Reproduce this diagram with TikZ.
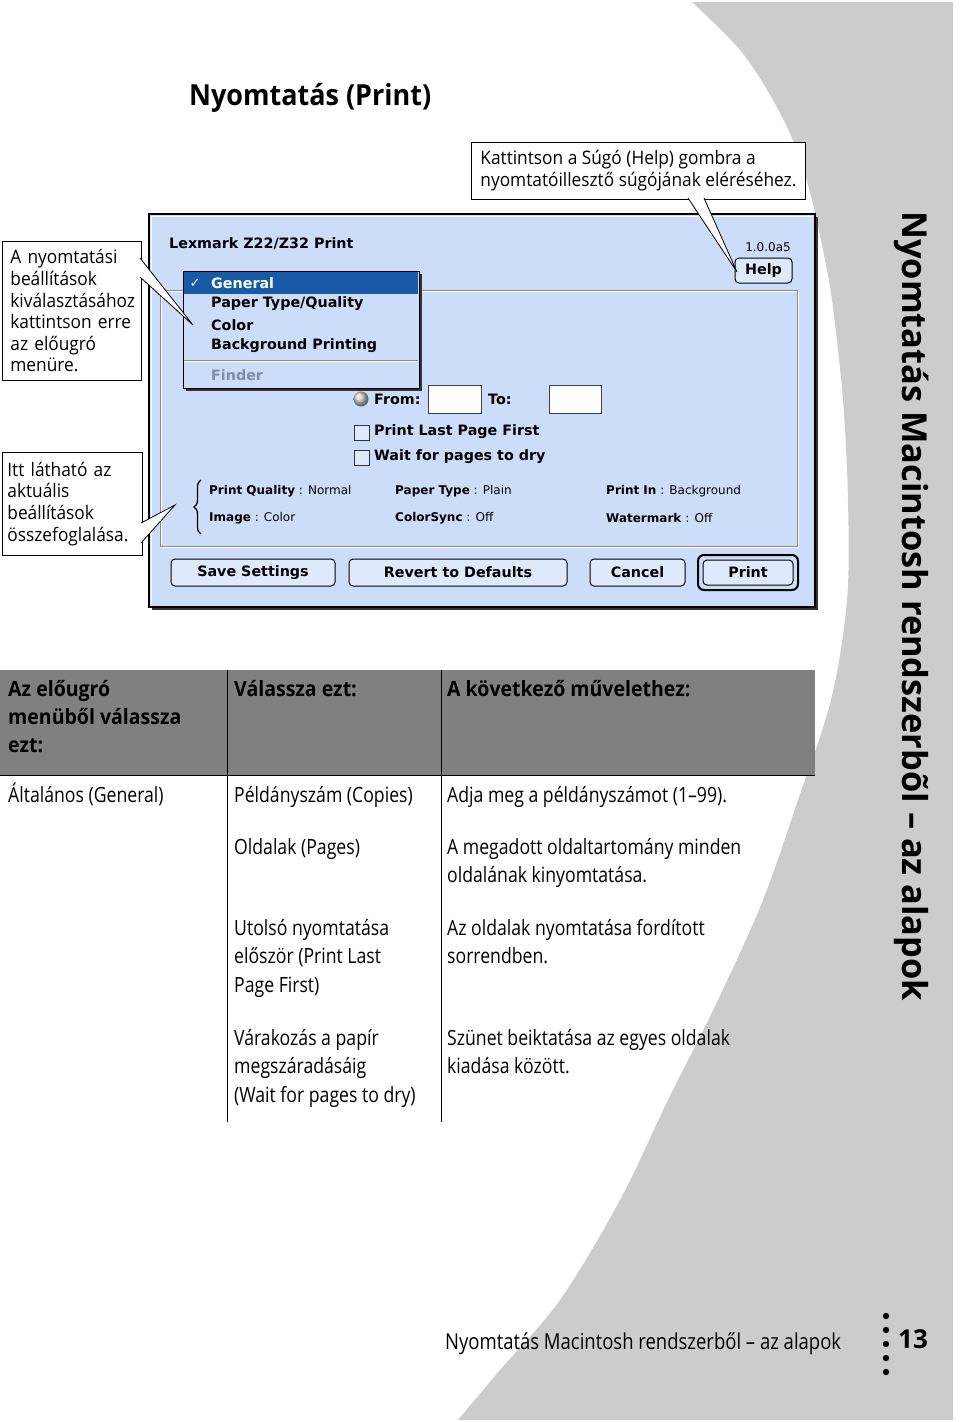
\documentclass[tikz,border=0pt]{standalone}
\usepackage{fontspec}
\setmainfont{Open Sans}
\newfontfamily\condfont[FakeStretch=0.84]{Open Sans}
\newfontfamily\condboldfont[FakeStretch=0.93]{Open Sans}
\newfontfamily\notefont[FakeStretch=0.93]{Open Sans}
\newfontfamily\chicagofont{DejaVu Sans}
\newfontfamily\genevafont{DejaVu Sans}
\usepackage{xcolor}
\usepackage{tikz}
\usetikzlibrary{decorations.pathreplacing}
\definecolor{pagegray}{RGB}{204,204,204}
\definecolor{headgray}{RGB}{128,128,128}
\definecolor{dlgblue}{RGB}{204,221,250}
\definecolor{btnblue}{RGB}{222,233,252}
\definecolor{selblue}{RGB}{24,90,166}
\definecolor{fadegray}{RGB}{128,140,162}

\begin{document}
\begin{tikzpicture}[x=1pt, y=-1pt,
    callout/.style={draw, fill=white, line width=0.8pt, anchor=north west, align=left,
        inner ysep=0pt, font=\notefont\fontsize{18.6}{21.6}\selectfont},
    pointer/.style={fill=white, draw=black, line width=0.8pt},
    cell/.style={anchor=north west, inner sep=0pt, align=left, font=\condfont\fontsize{21}{28.5}\selectfont},
    headcell/.style={cell, font=\condboldfont\bfseries\fontsize{21}{28}\selectfont},
    mactext/.style={anchor=west, inner sep=0pt, font=\chicagofont\bfseries\fontsize{14.3}{17}\selectfont},
    summary/.style={anchor=west, inner sep=0pt, font=\genevafont\fontsize{12}{14}\selectfont},
    macbutton/.style={draw=black, fill=btnblue, rounded corners=4pt, line width=1pt, inner sep=0pt,
        minimum height=27, font=\chicagofont\bfseries\fontsize{14.3}{17}\selectfont}]

    % Page and the gray side band
    \useasboundingbox (0,0) rectangle (960,1422);
    \fill[pagegray] plot[smooth, tension=0.55] coordinates {(692,2) (740,50) (773,100) (797,150)
        (812,200) (823,250) (832,300) (843,400) (848,500) (847,600) (831,700) (798,800)
        (763,900) (718,1000) (668,1100) (620,1200) (560,1300) (500,1370) (458,1420)}
        -- (953,1420) -- (953,2) -- cycle;

    % Title
    \node[anchor=west, inner sep=0pt, font=\notefont\bfseries\fontsize{29}{34}\selectfont] (title) at (189,98) {Nyomtatás (Print)};

    % The print dialog
    \fill[black!80] (152,217) rectangle (818,610);
    \draw[fill=dlgblue, line width=1.2pt] (149,214) rectangle (815,607);
    \draw[white, line width=1pt] (151.5,604) -- (151.5,216.5) -- (812,216.5);
    \node[mactext] (dlgtitle) at (169,244) {Lexmark Z22/Z32 Print};
    \node[summary, anchor=east] (version) at (791,247) {1.0.0a5};
    \node[macbutton, minimum width=57, minimum height=25] (help) at (763.5,270.5) {Help};

    \draw[white, line width=1pt] (161,291) rectangle (798,547);
    \draw[black!45, line width=1pt] (160,290) rectangle (797,546);

    % Page range and options
    \shade[ball color=gray!35] (361,399) circle (7.5);
    \node[mactext] (from) at (374,399) {From:};
    \draw[fill=white, draw=black!75] (428,385) rectangle (481,413);
    \node[mactext] (to) at (488,399) {To:};
    \draw[fill=white, draw=black!75] (549,385) rectangle (601,413);
    \draw[fill=btnblue, draw=black!80] (354,425) rectangle (369,440);
    \node[mactext] (lastfirst) at (374,432) {Print Last Page First};
    \draw[fill=btnblue, draw=black!80] (354,450) rectangle (369,465);
    \node[mactext] (waitdry) at (374,457) {Wait for pages to dry};

    % Summary of settings
    \draw[decorate, decoration={brace, amplitude=7pt}, line width=1.3pt] (201,534) -- (201,480);
    \node[summary] (quality) at (209,491) {\textbf{Print Quality} : Normal};
    \node[summary] (image) at (209,518) {\textbf{Image} : Color};
    \node[summary] (paper) at (395,491) {\textbf{Paper Type} : Plain};
    \node[summary] (colorsync) at (395,518) {\textbf{ColorSync} : Off};
    \node[summary] (printin) at (606,491) {\textbf{Print In} : Background};
    \node[summary] (watermark) at (606,518) {\textbf{Watermark} : Off};

    % Buttons
    \node[macbutton, minimum width=164] (save) at (253,572.5) {Save Settings};
    \node[macbutton, minimum width=218] (revert) at (458,572.5) {Revert to Defaults};
    \node[macbutton, minimum width=95] (cancel) at (637.5,572.5) {Cancel};
    \node[macbutton, minimum width=90, minimum height=25] (print) at (748,572.5) {Print};
    \draw[line width=2pt, rounded corners=6pt] (698,555) rectangle (798,590);

    % Pop-up menu
    \fill[black!80] (186,274) rectangle (422,391);
    \draw[fill=dlgblue, line width=1pt] (183,271) rectangle (419,388);
    \fill[selblue] (184,272) rectangle (418,293.5);
    \node[white, inner sep=0pt, font=\genevafont\fontsize{13}{15}\selectfont] (tick) at (195,283) {✓};
    \node[mactext, white] (general) at (211,283) {General};
    \node[mactext] (papertype) at (211,304) {Paper Type/Quality};
    \node[mactext] (colour) at (211,325) {Color};
    \node[mactext] (backprint) at (211,346) {Background Printing};
    \draw[black!45] (184,360.5) -- (418,360.5);
    \draw[white] (184,361.5) -- (418,361.5);
    \node[mactext, fadegray] (finder) at (211,375) {Finder};

    % Callouts
    \node[callout, minimum width=334, minimum height=57] (helpnote) at (471,142)
        {Kattintson a Súgó (Help) gombra a\\nyomtatóillesztő súgójának eléréséhez.};
    \coordinate (helpa) at (688,198);
    \coordinate (helpb) at (704,198);
    \coordinate (helptip) at (737,272);
    \filldraw[pointer] (helpa) -- (helptip) -- (helpb);

    \node[callout, text width=123, inner xsep=8, minimum height=139] (menunote) at (2,241)
        {A nyomtatási\\beállítások\\kiválasztásához\\kattintson erre\\az előugró\\menüre.};
    \coordinate (menua) at (140,258);
    \coordinate (menub) at (140,277);
    \coordinate (menutip) at (193,325);
    \filldraw[pointer] (menua) -- (menutip) -- (menub);

    \node[callout, text width=130, inner xsep=5, minimum height=103] (sumnote) at (2,452)
        {Itt látható az\\aktuális\\beállítások\\összefoglalása.};
    \coordinate (suma) at (141,523);
    \coordinate (sumb) at (141,543);
    \coordinate (sumtip) at (175,505);
    \filldraw[pointer] (suma) -- (sumtip) -- (sumb);

    % Table
    \fill[headgray] (0,670) rectangle (815,775);
    \draw[line width=1.5pt] (0,775.5) -- (815,775.5);
    \draw[line width=1pt] (227,670) -- (227,1122);
    \draw[line width=1pt] (441,670) -- (441,1122);

    \node[headcell] (menuhead) at (8,677) {\strut Az előugró\\menüből válassza\\ezt:};
    \node[headcell] (choosehead) at (234,677) {\strut Válassza ezt:};
    \node[headcell] (actionhead) at (447,677) {\strut A következő művelethez:};

    \node[cell] (generalrow) at (8,782) {\strut Általános (General)};
    \node[cell] (copies) at (234,782) {\strut Példányszám (Copies)};
    \node[cell] (copiesdo) at (447,782) {\strut Adja meg a példányszámot (1–99).};
    \node[cell] (pages) at (234,834) {\strut Oldalak (Pages)};
    \node[cell] (pagesdo) at (447,834) {\strut A megadott oldaltartomány minden\\oldalának kinyomtatása.};
    \node[cell] (lastrow) at (234,915) {\strut Utolsó nyomtatása\\először (Print Last\\Page First)};
    \node[cell] (lastdo) at (447,915) {\strut Az oldalak nyomtatása fordított\\sorrendben.};
    \node[cell] (dryrow) at (234,1025) {\strut Várakozás a papír\\megszáradásáig\\(Wait for pages to dry)};
    \node[cell] (drydo) at (447,1025) {\strut Szünet beiktatása az egyes oldalak\\kiadása között.};

    % Side title and footer
    \node[rotate=-90, anchor=base west, inner sep=0pt, font=\bfseries\fontsize{34.4}{40}\selectfont]
        (sidetitle) at (902,211) {Nyomtatás Macintosh rendszerbõl – az alapok};
    \node[anchor=base west, inner sep=0pt, font=\condfont\fontsize{22}{26}\selectfont] (footer) at (445,1349)
        {Nyomtatás Macintosh rendszerből – az alapok};
    \foreach \y in {1316,1330,1344,1358,1372}
        \fill (886,\y) circle (3.2);
    \node[anchor=west, inner sep=0pt, font=\bfseries\fontsize{26}{30}\selectfont] (pagenum) at (898,1339) {13};

\end{tikzpicture}
\end{document}
